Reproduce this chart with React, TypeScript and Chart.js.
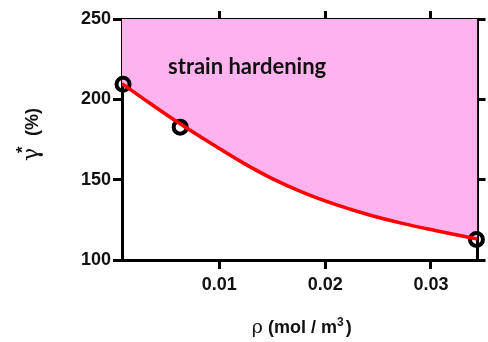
import React, { useEffect, useRef } from "react";
import { Chart, registerables } from "chart.js";

Chart.register(...registerables);

// Measured data points
const pointX = [0.0009, 0.0063, 0.0343];
const pointY = [209.4, 182.7, 112.8];

// Fitted curve
const curveX = [0.0008, 0.0033, 0.0064, 0.0095, 0.0122, 0.0149, 0.018, 0.0211, 0.0242, 0.0273, 0.0304, 0.0344];
const curveY = [209.8, 198.2, 184.3, 171.4, 160.6, 151.0, 141.8, 134.3, 128.0, 122.8, 118.4, 113.0];

const xTicks = [0.01, 0.02, 0.03];
const yTicks = [100, 150, 200, 250];
const xMin = 0.0008;
const xMax = 0.0344;
const yMin = 100;
const yMax = 250;

const annotationText = "strain hardening";
const annotationX = 0.00515;
const annotationY = 215.8;

const BOLD = "'Liberation Sans', Arial, sans-serif";

const overlayPlugin = {
  id: "overlay",
  afterDraw(chart: any) {
    const ctx = chart.ctx;
    const ca = chart.chartArea;
    const xs = chart.scales.x;
    const ys = chart.scales.y;
    ctx.save();
    // annotation
    ctx.fillStyle = "#111";
    ctx.font = "bold 22px Lato, 'Open Sans', sans-serif";
    ctx.textAlign = "left";
    ctx.textBaseline = "alphabetic";
    ctx.fillText(annotationText, xs.getPixelForValue(annotationX), ys.getPixelForValue(annotationY));

    // x title: ρ (mol / m³)
    const parts: [string, string, number, number][] = [
      ["ρ", "19px 'DejaVu Serif', serif", 0, 0],
      [" (mol / m", `bold 18px ${BOLD}`, 0, 0],
      ["3", `bold 12px ${BOLD}`, -7, 0],
      [")", `bold 18px ${BOLD}`, 0, 2],
    ];
    let total = 0;
    for (const p of parts) {
      ctx.font = p[1];
      total += ctx.measureText(p[0]).width + p[3];
    }
    let x = (ca.left + ca.right) / 2 - total / 2 + 2;
    const by = 333;
    for (const p of parts) {
      ctx.font = p[1];
      x += p[3];
      ctx.fillText(p[0], x, by + p[2]);
      x += ctx.measureText(p[0]).width;
    }

    // y title: γ* (%)
    ctx.translate(38, 161);
    ctx.rotate(-Math.PI / 2);
    ctx.font = "22px 'DejaVu Serif', serif";
    ctx.fillText("γ", 0, 0);
    ctx.font = `bold 17px ${BOLD}`;
    ctx.fillText("*", 8, -10);
    ctx.font = `bold 18px ${BOLD}`;
    ctx.fillText("(%)", 25, 0);
    ctx.restore();
  },
};

export default function App() {
  const ref = useRef<HTMLCanvasElement>(null);
  useEffect(() => {
    if (!ref.current) return;
    const grid = {
      drawOnChartArea: false,
      drawTicks: true,
      tickLength: 9,
      lineWidth: 3,
      color: "#000",
    };
    const border = { display: true, width: 3, color: "#000" };
    const chart = new Chart(ref.current, {
      type: "scatter",
      data: {
        datasets: [
          {
            label: "fit",
            data: curveX.map((x, i) => ({ x, y: curveY[i] })),
            showLine: true,
            borderColor: "#FF0000",
            borderWidth: 3.5,
            pointRadius: 0,
            cubicInterpolationMode: "monotone",
            fill: "end",
            backgroundColor: "#FFB3EE",
          } as any,
          {
            label: "data",
            data: pointX.map((x, i) => ({ x, y: pointY[i] })),
            showLine: false,
            pointStyle: "circle",
            pointRadius: 6.5,
            borderWidth: 4,
            pointBorderWidth: 4,
            borderColor: "#000",
            pointBorderColor: "#000",
            pointBackgroundColor: "rgba(0,0,0,0)",
            backgroundColor: "rgba(0,0,0,0)",
            clip: false,
          } as any,
        ],
      },
      options: {
        animation: false,
        responsive: false,
        layout: { padding: 0 },
        plugins: {
          legend: { display: false },
          tooltip: { enabled: false },
          filler: { drawTime: "beforeDatasetsDraw" },
        },
        scales: {
          x: {
            type: "linear", position: "bottom", min: xMin, max: xMax, z: 1,
            afterBuildTicks: (s: any) => { s.ticks = xTicks.map((v) => ({ value: v })); },
            afterFit: (s: any) => { s.height = 82; },
            grid, border,
            ticks: { color: "#111", font: { family: BOLD, size: 18, weight: "bold" }, padding: 5, maxRotation: 0, callback: (v: any) => String(v) },
          },
          x2: {
            type: "linear", position: "top", min: xMin, max: xMax, z: 1,
            afterBuildTicks: (s: any) => { s.ticks = xTicks.map((v) => ({ value: v })); },
            afterFit: (s: any) => { s.height = 19; },
            grid: { ...grid, tickLength: 8 }, border, ticks: { display: false },
          },
          y: {
            type: "linear", position: "left", min: yMin, max: yMax, z: 1,
            afterBuildTicks: (s: any) => { s.ticks = yTicks.map((v) => ({ value: v })); },
            afterFit: (s: any) => { s.width = 122; },
            grid, border,
            ticks: { color: "#111", font: { family: BOLD, size: 18, weight: "bold" }, padding: 2 },
          },
          y2: {
            type: "linear", position: "right", min: yMin, max: yMax, z: 1,
            afterBuildTicks: (s: any) => { s.ticks = yTicks.map((v) => ({ value: v })); },
            afterFit: (s: any) => { s.width = 5; },
            grid: { ...grid, tickLength: 8 }, border, ticks: { display: false },
          },
        },
      },
      plugins: [overlayPlugin],
    } as any);
    return () => chart.destroy();
  }, []);
  return (
    <div style={{ position: "fixed", left: 0, top: 0, width: 488, height: 342, background: "#fff" }}>
      <canvas ref={ref} width={488} height={342} style={{ width: 488, height: 342 }} />
    </div>
  );
}
